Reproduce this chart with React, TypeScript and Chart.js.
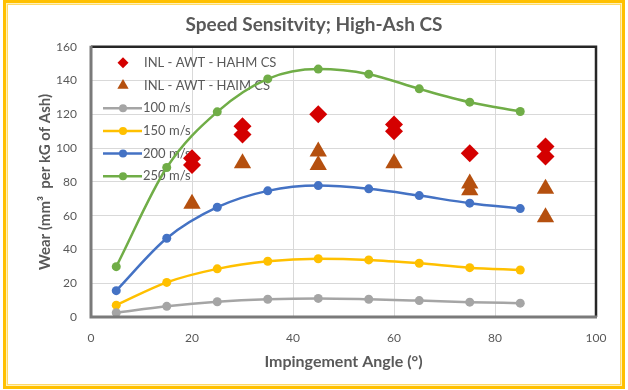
import React, { useEffect, useRef } from 'react';
import { Chart, registerables } from 'chart.js';

Chart.register(...registerables);

const titleText = 'Speed Sensitvity; High-Ash CS';
const xTitle = 'Impingement Angle (°)';
const yTitle = 'Wear (mm³  per kG of Ash)';

const angles = [5, 15, 25, 35, 45, 55, 65, 75, 85];
const speed100 = [2.5, 6.3, 9, 10.5, 11, 10.5, 9.7, 8.8, 8.2];
const speed150 = [7, 20.5, 28.5, 33, 34.5, 33.8, 31.8, 29.2, 27.8];
const speed200 = [15.6, 46.6, 65, 74.7, 77.8, 75.9, 71.9, 67.4, 64.2];
const speed250 = [29.8, 88.5, 121.5, 141, 146.8, 143.8, 135.1, 127.2, 121.7];

const hahmAngles = [20, 20, 30, 30, 45, 60, 60, 75, 90, 90];
const hahmWear = [90, 94, 108, 113, 120, 110, 114, 97, 95, 101];
const haimAngles = [20, 30, 45, 45, 60, 75, 75, 90, 90];
const haimWear = [67, 91, 90, 98, 91, 75, 79, 76, 59];

const xTicks = [0, 20, 40, 60, 80, 100];
const yTicks = [0, 20, 40, 60, 80, 100, 120, 140, 160];

const seriesLabels = ['INL - AWT - HAHM CS', 'INL - AWT - HAIM CS', '100 m/s', '150 m/s', '200 m/s', '250 m/s'];

const FONT = 'Lato, "Open Sans", sans-serif';
const TEXT = '#595959';

const pts = (xs: number[], ys: number[]) => xs.map((x, i) => ({ x, y: ys[i] }));

const legendPlugin = {
  id: 'insideLegend',
  beforeDatasetsDraw(chart: any) {
    const { ctx, chartArea } = chart;
    const ds = chart.data.datasets;
    const order = [0, 1, 2, 3, 4, 5];
    ctx.save();
    order.forEach((di, row) => {
      const d = ds[di];
      const y = chartArea.top + 16 + row * 22.7;
      const mx = chartArea.left + 32;
      if (d.showLine) {
        ctx.strokeStyle = d.borderColor;
        ctx.lineWidth = 2.5;
        ctx.beginPath();
        ctx.moveTo(chartArea.left + 12, y);
        ctx.lineTo(chartArea.left + 51, y);
        ctx.stroke();
        ctx.fillStyle = d.backgroundColor;
        ctx.beginPath();
        ctx.arc(mx, y, 4, 0, Math.PI * 2);
        ctx.fill();
      } else {
        ctx.fillStyle = d.backgroundColor;
        ctx.beginPath();
        if (d.pointStyle === 'rectRot') {
          const r = 5.5;
          ctx.moveTo(mx, y - r);
          ctx.lineTo(mx + r, y);
          ctx.lineTo(mx, y + r);
          ctx.lineTo(mx - r, y);
        } else {
          const r = 6.5;
          ctx.moveTo(mx, y - r);
          ctx.lineTo(mx + r * 0.87, y + r * 0.5);
          ctx.lineTo(mx - r * 0.87, y + r * 0.5);
        }
        ctx.closePath();
        ctx.fill();
      }
      ctx.fillStyle = TEXT;
      ctx.font = `13px ${FONT}`;
      ctx.textBaseline = 'middle';
      ctx.textAlign = 'left';
      ctx.fillText(d.label, chartArea.left + (d.showLine ? 52 : 53), y);
    });
    ctx.restore();
  },
  afterDraw(chart: any) {
    const { ctx, chartArea } = chart;
    ctx.save();
    ctx.strokeStyle = '#262626';
    ctx.lineWidth = 2.5;
    ctx.beginPath();
    ctx.moveTo(chartArea.left, chartArea.top);
    ctx.lineTo(chartArea.right, chartArea.top);
    ctx.lineTo(chartArea.right, chartArea.bottom);
    ctx.stroke();
    ctx.strokeStyle = '#7a7a7a';
    ctx.lineWidth = 3;
    ctx.beginPath();
    ctx.moveTo(chartArea.left, chartArea.top - 1);
    ctx.lineTo(chartArea.left, chartArea.bottom);
    ctx.lineTo(chartArea.right + 1, chartArea.bottom);
    ctx.stroke();
    ctx.restore();
  },
};

export default function App() {
  const ref = useRef<HTMLCanvasElement | null>(null);

  useEffect(() => {
    if (!ref.current) return;
    const lineDs = (label: string, data: number[], color: string) => ({
      label,
      data: pts(angles, data),
      showLine: true,
      borderColor: color,
      backgroundColor: color,
      borderWidth: 2.5,
      pointRadius: 4.5,
      pointHoverRadius: 4.5,
      pointBorderWidth: 0,
      pointStyle: 'circle',
      tension: 0.4,
      cubicInterpolationMode: 'monotone',
    });
    const chart = new Chart(ref.current, {
      type: 'scatter',
      data: {
        datasets: [
          {
            label: seriesLabels[0],
            data: pts(hahmAngles, hahmWear),
            showLine: false,
            pointStyle: 'rectRot',
            pointRadius: 9,
            pointHoverRadius: 9,
            pointBorderWidth: 0,
            backgroundColor: '#D40000',
            borderColor: '#D40000',
            order: 0,
          },
          {
            label: seriesLabels[1],
            data: pts(haimAngles, haimWear),
            showLine: false,
            pointStyle: 'triangle',
            pointRadius: 10,
            pointHoverRadius: 10,
            pointBorderWidth: 0,
            backgroundColor: '#B5500F',
            borderColor: '#B5500F',
            order: 1,
          },
          { ...lineDs(seriesLabels[2], speed100, '#A5A5A5'), order: 2 },
          { ...lineDs(seriesLabels[3], speed150, '#FFC000'), order: 3 },
          { ...lineDs(seriesLabels[4], speed200, '#4472C4'), order: 4 },
          { ...lineDs(seriesLabels[5], speed250, '#70AD47'), order: 5 },
        ] as any,
      },
      options: {
        animation: false,
        responsive: false,
        maintainAspectRatio: false,
        layout: { padding: { left: 32, right: 32, top: 13, bottom: 15 } },
        plugins: {
          legend: { display: false },
          tooltip: { enabled: false },
          title: {
            display: true,
            text: titleText,
            color: TEXT,
            font: { family: FONT, size: 19, weight: 'bold' },
            padding: { top: 0, bottom: 11 },
          },
        },
        scales: {
          x: {
            type: 'linear',
            min: 0,
            max: 100,
            afterBuildTicks: (s: any) => { s.ticks = xTicks.map((v) => ({ value: v })); },
            afterFit: (s: any) => { s.height = 58; },
            grid: { color: '#D9D9D9', lineWidth: 1, drawTicks: false },
            border: { display: false },
            ticks: { color: TEXT, font: { family: FONT, size: 12 }, padding: 14 },
            title: {
              display: true,
              text: xTitle,
              color: TEXT,
              font: { family: FONT, size: 16, weight: 'bold' },
              padding: { top: 4, bottom: 4 },
            },
          },
          y: {
            type: 'linear',
            min: 0,
            max: 160,
            afterBuildTicks: (s: any) => { s.ticks = yTicks.map((v) => ({ value: v })); },
            afterFit: (s: any) => { s.width = 59; },
            grid: { color: '#D9D9D9', lineWidth: 1, drawTicks: false },
            border: { display: false },
            ticks: { color: TEXT, font: { family: FONT, size: 12 }, padding: 14 },
            title: {
              display: true,
              text: yTitle,
              color: TEXT,
              font: { family: FONT, size: 15, weight: 'bold' },
              padding: { top: 4, bottom: 4 },
            },
          },
        },
      },
      plugins: [legendPlugin],
    });
    return () => chart.destroy();
  }, []);

  return (
    <div style={{ position: 'fixed', left: 0, top: 0, width: 628, height: 390, background: '#fff' }}>
      <canvas ref={ref} width={628} height={390} style={{ position: 'absolute', left: 0, top: 0, width: 628, height: 390 }} />
      <div
        style={{
          position: 'absolute',
          left: 3,
          top: 0,
          width: 622,
          height: 389,
          boxSizing: 'border-box',
          border: '3px solid #FFC000',
          boxShadow: 'inset 0 0 0 1px #FFF1B8, inset 0 0 0 2px #FFD966',
          pointerEvents: 'none',
        }}
      />
    </div>
  );
}
